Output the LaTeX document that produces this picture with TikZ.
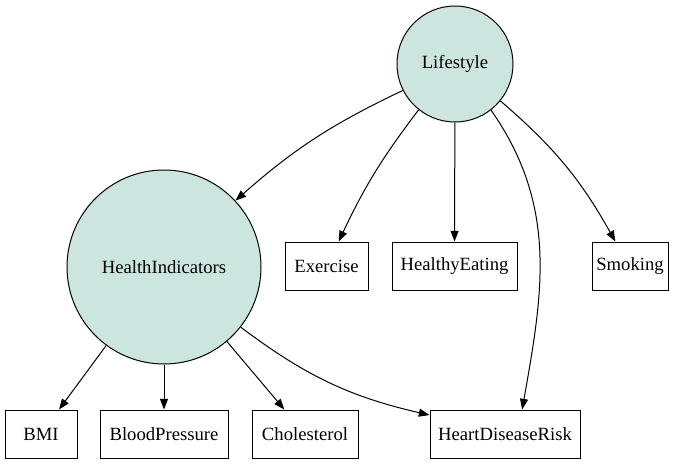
\documentclass[tikz,border=0pt]{standalone}
\usepackage{fontspec}
\setmainfont{Liberation Serif}
\usetikzlibrary{arrows.meta,shapes}
\definecolor{mint}{HTML}{CCE6DF}
\tikzset{
  factor/.style = {circle, draw=black, fill=mint, line width=0.75pt, inner sep=0pt, font=\rmfamily\fontsize{14pt}{16pt}\selectfont},
  item/.style = {rectangle, draw=black, line width=0.75pt, minimum height=36pt, inner xsep=2pt, font=\rmfamily\fontsize{14pt}{16pt}\selectfont},
  link/.style = {-{Triangle[length=8pt,width=6pt]}, black, line width=0.75pt},
}
\begin{document}
\begin{tikzpicture}[x=0.75pt,y=-0.75pt]
\useasboundingbox (0,0) rectangle (685,464);
% top level
\node [factor, minimum size=87pt] (life) at (455,64) {Lifestyle};
\node [factor, minimum size=145.5pt] (health) at (164,267) {HealthIndicators};
% middle row
\node [item, minimum width=62.25pt] (exercise) at (326.5,266) {Exercise};
\node [item, minimum width=93.75pt] (eating) at (454.5,266) {HealthyEating};
\node [item, minimum width=57pt] (smoking) at (630,266) {Smoking};
% bottom row
\node [item, minimum width=54pt] (bmi) at (41,434) {BMI};
\node [item, minimum width=96pt] (pressure) at (164,434) {BloodPressure};
\node [item, minimum width=79.5pt] (chol) at (305,434) {Cholesterol};
\node [item, minimum width=112.5pt] (risk) at (505,434) {HeartDiseaseRisk};
% edges
\draw [link] (life) to[bend right=8] (health);
\draw [link] (life) to[bend right=6] (exercise);
\draw [link] (life) -- (eating);
\draw [link] (life) to[bend left=10] (smoking);
\draw [link] (life.-52) to[out=-55,in=80,looseness=1] (risk.55);
\draw [link] (health) -- (bmi);
\draw [link] (health) -- (pressure);
\draw [link] (health) -- (chol);
\draw [link] (health) to[bend right=12] (risk);
\end{tikzpicture}
\end{document}
